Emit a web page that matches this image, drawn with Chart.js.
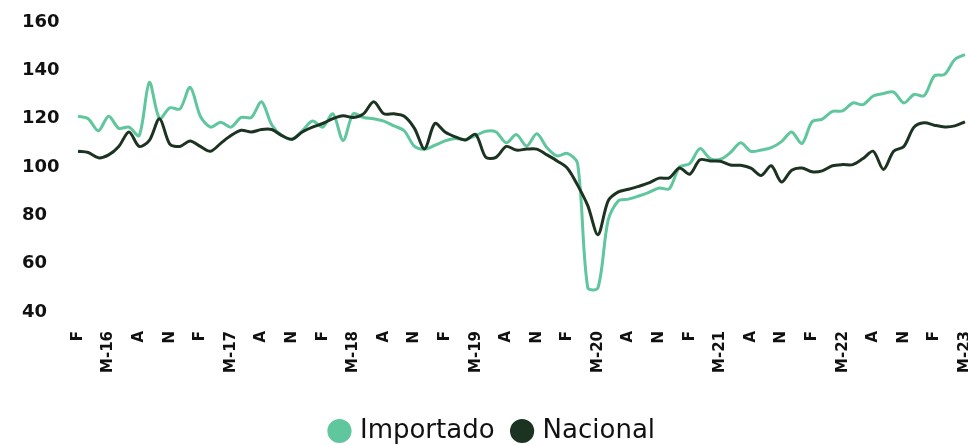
<!DOCTYPE html>
<html>
<head>
<meta charset="utf-8">
<script src="https://cdn.jsdelivr.net/npm/chart.js@4.4.1/dist/chart.umd.min.js"></script>
<style>
  html, body { margin: 0; padding: 0; background: #fff; overflow: hidden; }
  canvas { display: block; }
</style>
</head>
<body>
<canvas id="chart" width="968" height="445"></canvas>
<script>
// tick labels shown every third month, Feb-2016 .. May-2023
const tickLabels = ['F', 'M-16', 'A', 'N', 'F', 'M-17', 'A', 'N', 'F', 'M-18', 'A', 'N',
    'F', 'M-19', 'A', 'N', 'F', 'M-20', 'A', 'N', 'F', 'M-21', 'A', 'N',
    'F', 'M-22', 'A', 'N', 'F', 'M-23'];

const importado = [121, 120, 115, 121, 116, 116.5, 113, 135, 120, 124.5, 124, 133,
    121, 116.5, 118.5, 116.5, 120.5, 120.5, 127, 117.5, 113, 111.5, 115, 119,
    116.5, 122, 111, 122, 120.5, 120, 119, 117, 115, 108.5, 107.4, 109,
    110.8, 111.8, 111.3, 113, 114.8, 114.5, 110, 113.4, 108.7, 113.8, 108, 104.6,
    105.6, 101.5, 50, 50, 78, 86, 86.7, 88, 89.5, 91.3, 91, 100,
    101.4, 107.6, 103.5, 103.2, 106, 110, 106.5, 107, 108, 110.5, 114.5, 109.7,
    118.7, 119.8, 123, 123.2, 126.5, 125.8, 129.4, 130.4, 131, 126.5, 130, 129.5,
    137.7, 138.3, 144.5, 146.5];

const nacional = [106.5, 106, 103.8, 105, 108.5, 114.5, 108.5, 111, 120, 109.5, 108.5, 110.8,
    108.5, 106.5, 109.8, 113, 115.2, 114.5, 115.5, 115.5, 113, 111.5, 114.5, 116.5,
    118, 120, 121.2, 120.5, 122, 127, 122, 122, 121, 116, 107.5, 118,
    114.5, 112.5, 111.2, 113.5, 104, 104, 108.5, 107, 107.4, 107.4, 105, 102.5,
    99.5, 92.5, 84, 72, 86, 89.7, 90.8, 92, 93.4, 95.4, 95.5, 99.6,
    97, 103, 102.5, 102.4, 100.8, 100.7, 99.5, 96.5, 100.5, 93.8, 98.7, 99.6,
    98, 98.4, 100.5, 101, 101, 103.5, 106.5, 99, 106.5, 108.5, 116.5, 118.3,
    117.3, 116.6, 117, 118.7];

const categories = [];
for (let i = 0; i < importado.length; i++) {
    const d = new Date(2016, 1 + i, 1);
    categories.push(d.getFullYear() + '-' + String(d.getMonth() + 1).padStart(2, '0'));
}

const green = '#5fc69d';
const dark = '#1d3322';

const ctx = document.getElementById('chart').getContext('2d');
new Chart(ctx, {
    type: 'line',
    data: {
        labels: categories,
        datasets: [{
            label: 'Importado',
            data: importado,
            borderColor: green,
            backgroundColor: green,
            borderWidth: 3,
            pointRadius: 0,
            tension: 0.3,
            order: 1
        }, {
            label: 'Nacional',
            data: nacional,
            borderColor: dark,
            backgroundColor: dark,
            borderWidth: 3,
            pointRadius: 0,
            tension: 0.3,
            order: 0
        }]
    },
    options: {
        responsive: false,
        animation: false,
        layout: {
            padding: { left: 22, right: 3, top: 22, bottom: -9 }
        },
        plugins: {
            tooltip: { enabled: false },
            legend: {
                position: 'bottom',
                labels: {
                    usePointStyle: true,
                    pointStyle: 'circle',
                    boxWidth: 15,
                    boxHeight: 15,
                    padding: 20,
                    color: '#111',
                    font: { family: 'DejaVu Sans', size: 26 },
                    sort: (a, b) => a.datasetIndex - b.datasetIndex
                }
            }
        },
        scales: {
            x: {
                grid: { display: false },
                border: { display: false },
                afterFit: (scale) => {
                    scale.height = 86;
                    scale.paddingLeft = 0;
                    scale.paddingRight = 0;
                },
                ticks: {
                    autoSkip: false,
                    minRotation: 90,
                    maxRotation: 90,
                    padding: 11,
                    color: '#111',
                    font: { family: 'DejaVu Sans', size: 15, weight: 'bold' },
                    callback: (value, index) => index % 3 === 0 ? tickLabels[index / 3] : ''
                }
            },
            y: {
                min: 40,
                max: 160,
                grid: { display: false },
                border: { display: false },
                afterFit: (scale) => { scale.width = 56; },
                ticks: {
                    stepSize: 20,
                    crossAlign: 'far',
                    color: '#111',
                    font: { family: 'DejaVu Sans', size: 18, weight: 'bold' }
                }
            }
        }
    }
});
</script>
</body>
</html>
